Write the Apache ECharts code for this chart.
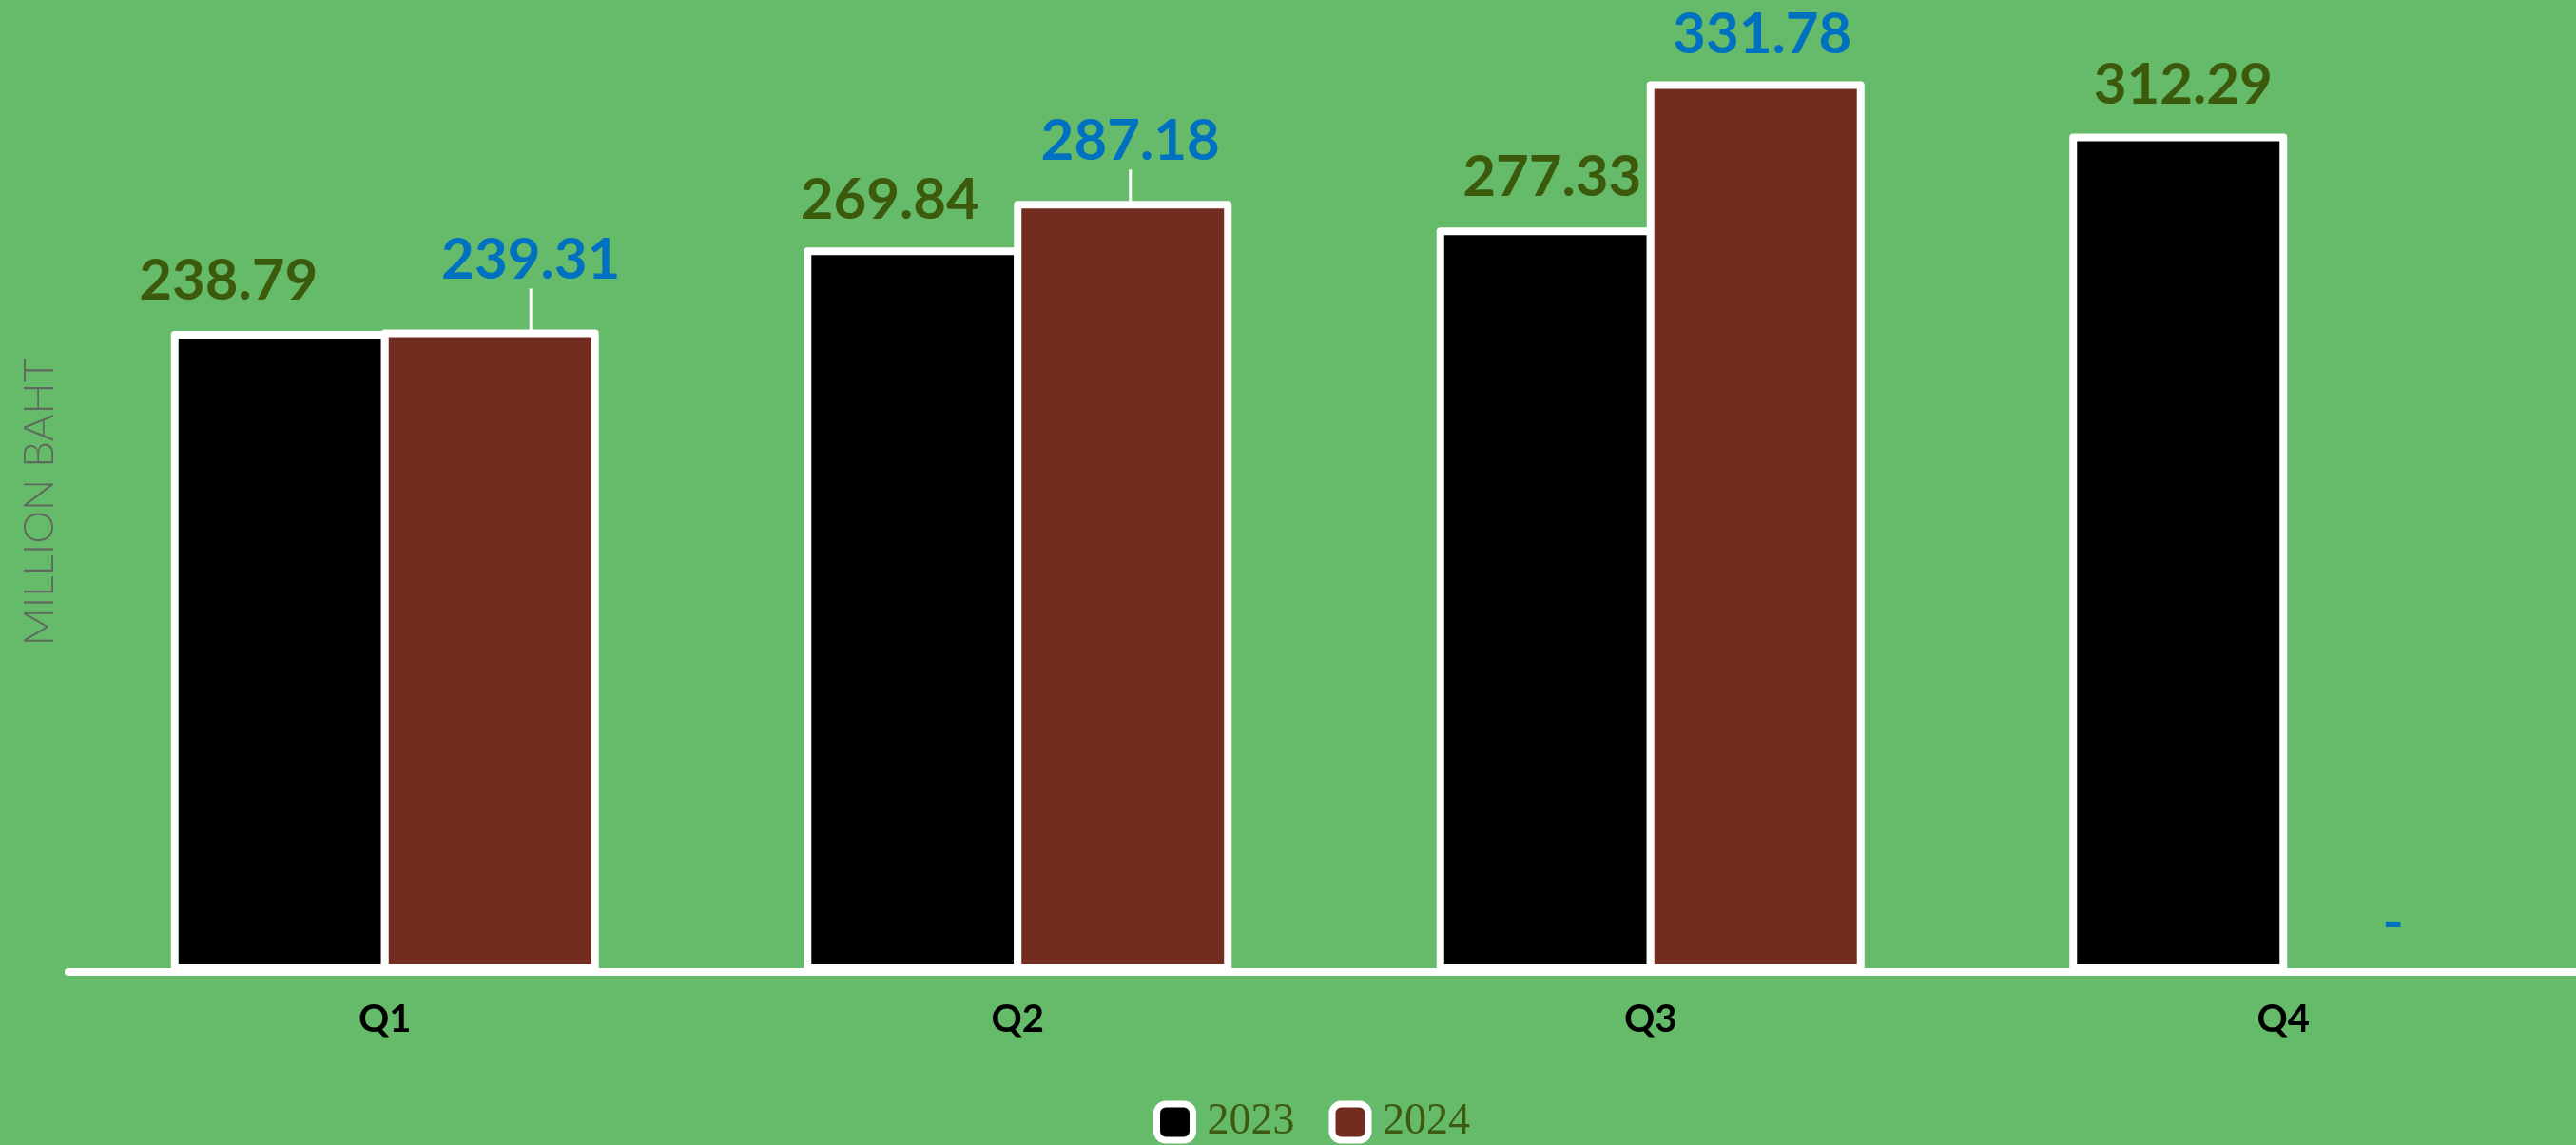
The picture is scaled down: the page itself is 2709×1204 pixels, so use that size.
<!DOCTYPE html>
<html>
<head>
<meta charset="utf-8">
<script src="https://cdn.jsdelivr.net/npm/echarts@6/dist/echarts.min.js"></script>
<style>
  html, body { margin: 0; padding: 0; background: #66BB6A; }
  #chart { width: 2709px; height: 1204px; }
</style>
</head>
<body>
<div id="chart"></div>
<script>
// ---- data ----
const categories = ['Q1', 'Q2', 'Q3', 'Q4'];
const seriesNames = ['2023', '2024'];
const values2023 = [238.79, 269.84, 277.33, 312.29];
const values2024 = [239.31, 287.18, 331.78, null]; // Q4 2024 not yet reported -> shown as "-"
const axisName = 'MILLION BAHT';

// ---- label nudges (px) to mimic the hand-placed labels ----
const shift2023 = [[-54, 0], [-24, 2], [7, 0], [5, 1]];
const shift2024 = [[43, -21], [8, -11], [7, 3], [5, 1]];

const chart = echarts.init(document.getElementById('chart'));

const data2024 = values2024.map(function (v, i) {
  if (v === null) {
    return {
      value: 0,
      itemStyle: { borderWidth: 0, color: 'rgba(0,0,0,0)' },
      label: { formatter: '-' },
      labelLine: { show: false }
    };
  }
  if (i === 2) return { value: v, labelLine: { show: false } };
  return v;
});

const labelFont = { fontFamily: 'Lato', fontWeight: 'bold', fontSize: 60 };

chart.setOption({
  backgroundColor: '#66BB6A',
  animation: false,
  grid: { left: 72, top: 34, width: 2662, bottom: 182, outerBoundsMode: 'none', containLabel: false },
  legend: {
    data: seriesNames,
    left: 1213,
    top: 1157,
    padding: 0,
    itemWidth: 38,
    itemHeight: 38,
    itemGap: 36,
    icon: 'roundRect',
    itemStyle: { borderColor: '#ffffff', borderWidth: 7 },
    textStyle: { fontFamily: 'Liberation Serif', fontSize: 46, color: '#3D5A10', padding: [0, 0, 0, 10] }
  },
  xAxis: {
    type: 'category',
    data: categories,
    axisLine: { show: true, lineStyle: { color: '#ffffff', width: 8 } },
    axisTick: { show: false },
    axisLabel: { color: '#000000', fontFamily: 'Lato', fontWeight: 'bold', fontSize: 40, margin: 30 },
    splitLine: { show: false }
  },
  yAxis: {
    type: 'value',
    min: 0,
    max: 350,
    axisLine: { show: false },
    axisTick: { show: false },
    axisLabel: { show: false },
    splitLine: { show: false },
    name: axisName,
    nameLocation: 'middle',
    nameGap: 8,
    nameTextStyle: { color: '#5E6A5E', fontFamily: 'Lato', fontWeight: 300, fontSize: 44 }
  },
  series: [
    {
      name: seriesNames[0],
      type: 'bar',
      data: values2023,
      barWidth: 229,
      barGap: '-3.5%',
      itemStyle: { color: '#000000', borderColor: '#ffffff', borderWidth: 8, borderJoin: 'round' },
      label: Object.assign({ show: true, position: 'top', distance: 22, color: '#3C5A0C',
        formatter: function (p) { return p.value.toFixed(2); } }, labelFont),
      labelLayout: function (p) { const s = shift2023[p.dataIndex]; return { dx: s[0], dy: s[1] }; }
    },
    {
      name: seriesNames[1],
      type: 'bar',
      data: data2024,
      barWidth: 229,
      barGap: '-3.5%',
      itemStyle: { color: '#722D20', borderColor: '#ffffff', borderWidth: 8, borderJoin: 'round' },
      label: Object.assign({ show: true, position: 'top', distance: 22, color: '#0070C0',
        formatter: function (p) { return p.value.toFixed(2); } }, labelFont),
      labelLine: { show: true, lineStyle: { color: '#ffffff', width: 3 } },
      labelLayout: function (p) { const s = shift2024[p.dataIndex]; return { dx: s[0], dy: s[1] }; }
    }
  ]
});
</script>
</body>
</html>
